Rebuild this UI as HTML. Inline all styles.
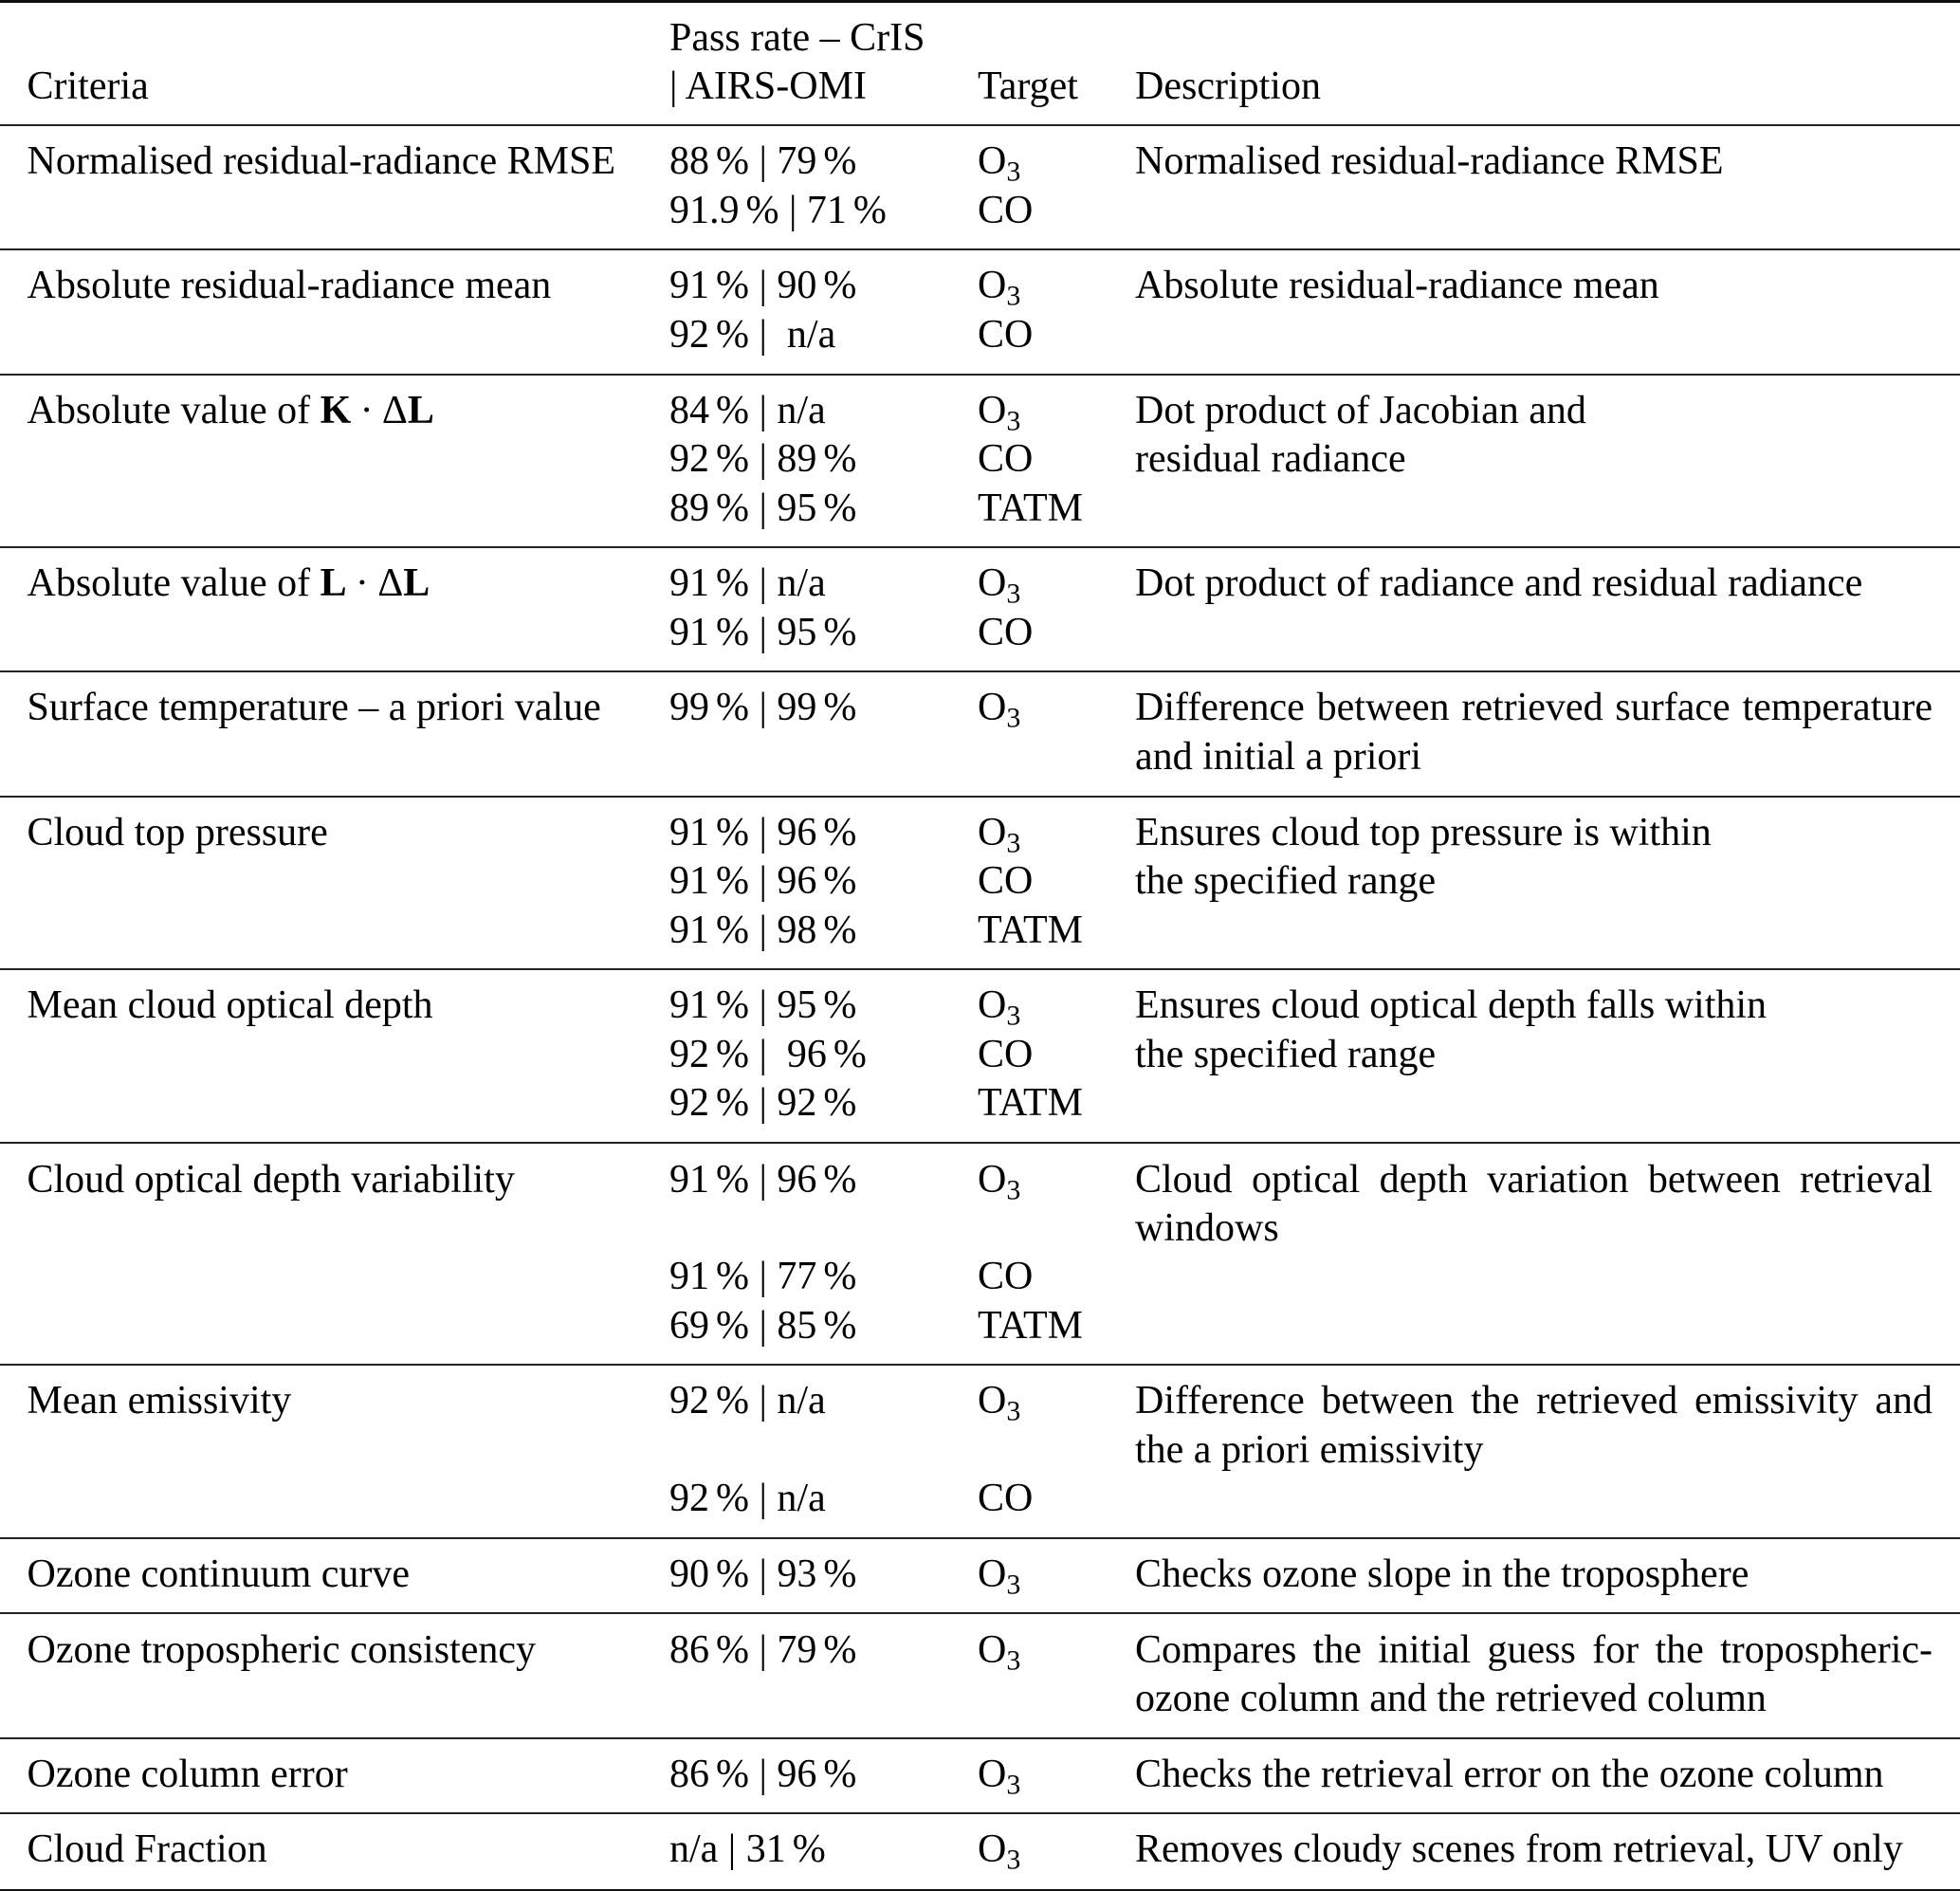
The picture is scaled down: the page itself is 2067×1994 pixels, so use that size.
<!DOCTYPE html>
<html>
<head>
<meta charset="utf-8">
<style>
html,body{margin:0;padding:0;}
body{width:2067px;height:1994px;position:relative;background:#fff;overflow:hidden;
font-family:"Liberation Serif","Times New Roman",serif;font-size:42px;color:#000;}
.c{position:absolute;line-height:51.4px;white-space:pre;margin-top:3px;}
.c>div{height:51.4px;}
.c1{left:28.5px;}
.c2{left:706px;}
.c3{left:1031px;}
.c4{left:1197px;width:841px;}
.j{text-align:justify;text-align-last:justify;white-space:normal;}
.r{position:absolute;left:0;width:2067px;height:2px;background:#222;}
sub{font-size:30px;vertical-align:-7.5px;line-height:0;}
.t{display:inline-block;width:7px;}
.m{display:inline-block;width:9.3px;}
b{font-weight:bold;}
</style>
</head>
<body>
<!-- rules -->
<div class="r" style="top:0;height:2.5px;background:#111"></div>
<div class="r" style="top:131px"></div>
<div class="r" style="top:262px"></div>
<div class="r" style="top:394px"></div>
<div class="r" style="top:576px"></div>
<div class="r" style="top:707px"></div>
<div class="r" style="top:839px"></div>
<div class="r" style="top:1021px"></div>
<div class="r" style="top:1204px"></div>
<div class="r" style="top:1438px"></div>
<div class="r" style="top:1621px"></div>
<div class="r" style="top:1700px"></div>
<div class="r" style="top:1832px"></div>
<div class="r" style="top:1911px"></div>
<div class="r" style="top:1991.5px;height:2.5px;background:#111"></div>

<!-- header -->
<div class="c c1" style="top:11.7px"><div></div><div>Criteria</div></div>
<div class="c c2" style="top:11.7px"><div>Pass rate – CrIS</div><div>| AIRS-OMI</div></div>
<div class="c c3" style="top:11.7px"><div></div><div>Target</div></div>
<div class="c c4" style="top:11.7px"><div></div><div>Description</div></div>

<!-- row 1 -->
<div class="c c1" style="top:142.4px"><div>Normalised residual-radiance RMSE</div></div>
<div class="c c2" style="top:142.4px"><div>88<i class="t"></i>% | 79<i class="t"></i>%</div><div>91.9<i class="t"></i>% | 71<i class="t"></i>%</div></div>
<div class="c c3" style="top:142.4px"><div>O<sub>3</sub></div><div>CO</div></div>
<div class="c c4" style="top:142.4px"><div>Normalised residual-radiance RMSE</div></div>

<!-- row 2 -->
<div class="c c1" style="top:273.4px"><div>Absolute residual-radiance mean</div></div>
<div class="c c2" style="top:273.4px"><div>91<i class="t"></i>% | 90<i class="t"></i>%</div><div>92<i class="t"></i>% |  n/a</div></div>
<div class="c c3" style="top:273.4px"><div>O<sub>3</sub></div><div>CO</div></div>
<div class="c c4" style="top:273.4px"><div>Absolute residual-radiance mean</div></div>

<!-- row 3 -->
<div class="c c1" style="top:404.9px"><div>Absolute value of <b>K</b><i class="m"></i>·<i class="m"></i>Δ<b>L</b></div></div>
<div class="c c2" style="top:404.9px"><div>84<i class="t"></i>% | n/a</div><div>92<i class="t"></i>% | 89<i class="t"></i>%</div><div>89<i class="t"></i>% | 95<i class="t"></i>%</div></div>
<div class="c c3" style="top:404.9px"><div>O<sub>3</sub></div><div>CO</div><div>TATM</div></div>
<div class="c c4" style="top:404.9px"><div>Dot product of Jacobian and</div><div>residual radiance</div></div>

<!-- row 4 -->
<div class="c c1" style="top:587.4px"><div>Absolute value of <b>L</b><i class="m"></i>·<i class="m"></i>Δ<b>L</b></div></div>
<div class="c c2" style="top:587.4px"><div>91<i class="t"></i>% | n/a</div><div>91<i class="t"></i>% | 95<i class="t"></i>%</div></div>
<div class="c c3" style="top:587.4px"><div>O<sub>3</sub></div><div>CO</div></div>
<div class="c c4" style="top:587.4px"><div>Dot product of radiance and residual radiance</div></div>

<!-- row 5 -->
<div class="c c1" style="top:718.4px"><div>Surface temperature – a priori value</div></div>
<div class="c c2" style="top:718.4px"><div>99<i class="t"></i>% | 99<i class="t"></i>%</div></div>
<div class="c c3" style="top:718.4px"><div>O<sub>3</sub></div></div>
<div class="c c4" style="top:718.4px"><div class="j">Difference between retrieved surface temperature</div><div>and initial a priori</div></div>

<!-- row 6 -->
<div class="c c1" style="top:849.9px"><div>Cloud top pressure</div></div>
<div class="c c2" style="top:849.9px"><div>91<i class="t"></i>% | 96<i class="t"></i>%</div><div>91<i class="t"></i>% | 96<i class="t"></i>%</div><div>91<i class="t"></i>% | 98<i class="t"></i>%</div></div>
<div class="c c3" style="top:849.9px"><div>O<sub>3</sub></div><div>CO</div><div>TATM</div></div>
<div class="c c4" style="top:849.9px"><div>Ensures cloud top pressure is within</div><div>the specified range</div></div>

<!-- row 7 -->
<div class="c c1" style="top:1032.2px"><div>Mean cloud optical depth</div></div>
<div class="c c2" style="top:1032.2px"><div>91<i class="t"></i>% | 95<i class="t"></i>%</div><div>92<i class="t"></i>% |  96<i class="t"></i>%</div><div>92<i class="t"></i>% | 92<i class="t"></i>%</div></div>
<div class="c c3" style="top:1032.2px"><div>O<sub>3</sub></div><div>CO</div><div>TATM</div></div>
<div class="c c4" style="top:1032.2px"><div>Ensures cloud optical depth falls within</div><div>the specified range</div></div>

<!-- row 8 -->
<div class="c c1" style="top:1215.6px"><div>Cloud optical depth variability</div></div>
<div class="c c2" style="top:1215.6px"><div>91<i class="t"></i>% | 96<i class="t"></i>%</div><div></div><div>91<i class="t"></i>% | 77<i class="t"></i>%</div><div>69<i class="t"></i>% | 85<i class="t"></i>%</div></div>
<div class="c c3" style="top:1215.6px"><div>O<sub>3</sub></div><div></div><div>CO</div><div>TATM</div></div>
<div class="c c4" style="top:1215.6px"><div class="j">Cloud optical depth variation between retrieval</div><div>windows</div></div>

<!-- row 9 -->
<div class="c c1" style="top:1449.2px"><div>Mean emissivity</div></div>
<div class="c c2" style="top:1449.2px"><div>92<i class="t"></i>% | n/a</div><div></div><div>92<i class="t"></i>% | n/a</div></div>
<div class="c c3" style="top:1449.2px"><div>O<sub>3</sub></div><div></div><div>CO</div></div>
<div class="c c4" style="top:1449.2px"><div class="j">Difference between the retrieved emissivity and</div><div>the a priori emissivity</div></div>

<!-- row 10 -->
<div class="c c1" style="top:1632.2px"><div>Ozone continuum curve</div></div>
<div class="c c2" style="top:1632.2px"><div>90<i class="t"></i>% | 93<i class="t"></i>%</div></div>
<div class="c c3" style="top:1632.2px"><div>O<sub>3</sub></div></div>
<div class="c c4" style="top:1632.2px"><div>Checks ozone slope in the troposphere</div></div>

<!-- row 11 -->
<div class="c c1" style="top:1711.6px"><div>Ozone tropospheric consistency</div></div>
<div class="c c2" style="top:1711.6px"><div>86<i class="t"></i>% | 79<i class="t"></i>%</div></div>
<div class="c c3" style="top:1711.6px"><div>O<sub>3</sub></div></div>
<div class="c c4" style="top:1711.6px"><div class="j">Compares the initial guess for the tropospheric-</div><div>ozone column and the retrieved column</div></div>

<!-- row 12 -->
<div class="c c1" style="top:1842.9px"><div>Ozone column error</div></div>
<div class="c c2" style="top:1842.9px"><div>86<i class="t"></i>% | 96<i class="t"></i>%</div></div>
<div class="c c3" style="top:1842.9px"><div>O<sub>3</sub></div></div>
<div class="c c4" style="top:1842.9px"><div>Checks the retrieval error on the ozone column</div></div>

<!-- row 13 -->
<div class="c c1" style="top:1922.2px"><div>Cloud Fraction</div></div>
<div class="c c2" style="top:1922.2px"><div>n/a | 31<i class="t"></i>%</div></div>
<div class="c c3" style="top:1922.2px"><div>O<sub>3</sub></div></div>
<div class="c c4" style="top:1922.2px"><div>Removes cloudy scenes from retrieval, UV only</div></div>
</body>
</html>
